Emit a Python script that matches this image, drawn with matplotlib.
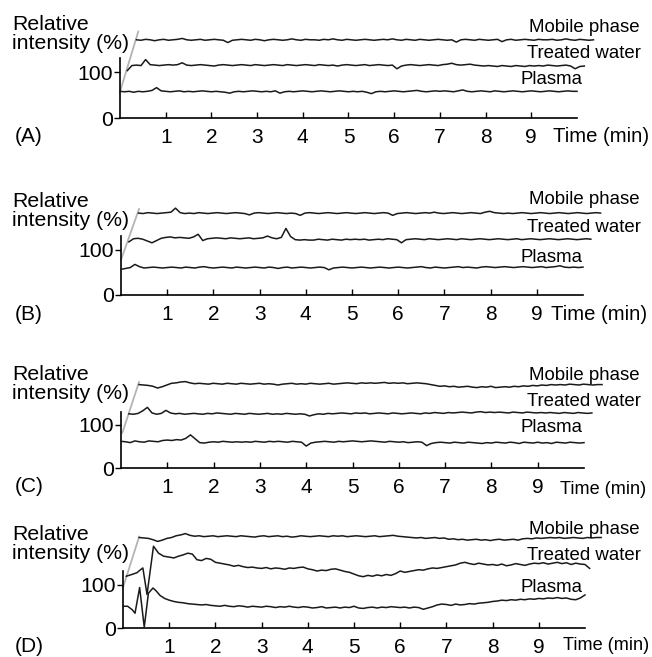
import numpy as np
import matplotlib
matplotlib.use("Agg")
import matplotlib.pyplot as plt

plt.rcParams['font.family'] = ['Liberation Sans', 'DejaVu Sans']

# ---------------- data ----------------
# common time grid (min) for most traces (trace-local time)
t_grid = np.round(np.arange(0, 10.001, 0.1), 1)

trace_names = ["Mobile phase", "Treated water", "Plasma"]
panel_labels = ["(A)", "(B)", "(C)", "(D)"]
x_ticks = [1, 2, 3, 4, 5, 6, 7, 8, 9]
y_ticks = [0, 100]
y_ticklabels = ["0", "100"]

# horizontal stacking offsets (min) of each trace
A_shift = [0.36, 0.16, 0.0]
B_shift = [0.38, 0.17, 0.0]
C_shift = [0.39, 0.17, 0.0]
D_mobile_shift = 0.35

A_mobile = [170, 169, 171, 170, 168, 170, 171, 169, 170, 171,
            173, 170, 169, 170, 171, 169, 170, 171, 170, 169,
            164, 169, 170, 171, 170, 169, 171, 170, 168, 170,
            171, 170, 169, 170, 172, 170, 169, 171, 170, 170,
            169, 171, 170, 172, 170, 169, 171, 170, 169, 170,
            171, 170, 169, 170, 171, 170, 172, 170, 169, 171,
            170, 169, 171, 170, 169, 170, 171, 170, 169, 170,
            165, 170, 171, 170, 169, 171, 170, 169, 170, 171,
            166, 170, 171, 169, 170, 171, 170, 169, 171, 170,
            170, 171, 169, 170, 172, 170, 169, 171, 170, 169,
            170]
A_treated = [103, 114, 115, 114, 127, 116, 115, 114, 115, 116,
             115, 116, 120, 115, 114, 115, 116, 115, 114, 113,
             115, 116, 115, 114, 115, 116, 115, 114, 116, 115,
             114, 115, 116, 115, 114, 116, 115, 114, 115, 116,
             115, 114, 116, 115, 114, 115, 113, 115, 116, 115,
             114, 115, 116, 114, 115, 116, 115, 114, 115, 107,
             113, 115, 116, 115, 114, 115, 116, 115, 114, 116,
             117, 119, 116, 115, 116, 117, 115, 114, 113, 114,
             113, 112, 114, 113, 112, 114, 113, 112, 114, 113,
             114, 113, 115, 114, 113, 114, 115, 113, 107, 112,
             113]
A_plasma = [58, 57, 58, 56, 58, 57, 58, 60, 66, 59,
            58, 57, 58, 59, 57, 58, 57, 58, 59, 58,
            57, 58, 57, 56, 54, 57, 58, 57, 58, 59,
            58, 57, 58, 57, 59, 54, 57, 58, 57, 58,
            59, 58, 57, 58, 59, 58, 57, 58, 59, 58,
            57, 58, 57, 58, 56, 53, 57, 58, 57, 58,
            59, 58, 57, 58, 59, 60, 58, 57, 58, 59,
            58, 59, 58, 57, 59, 61, 58, 57, 58, 59,
            58, 57, 59, 58, 57, 58, 59, 58, 57, 58,
            59, 58, 57, 58, 59, 58, 57, 58, 59, 58,
            58]

B_mobile = [182, 181, 183, 182, 181, 182, 183, 184, 193, 183,
            181, 182, 181, 183, 182, 181, 182, 183, 182, 181,
            182, 183, 182, 181, 178, 182, 183, 182, 181, 182,
            183, 182, 181, 182, 181, 177, 182, 183, 182, 181,
            182, 183, 182, 181, 182, 183, 182, 181, 182, 183,
            182, 181, 182, 183, 182, 177, 181, 182, 183, 182,
            181, 182, 183, 182, 184, 182, 181, 182, 183, 182,
            181, 182, 183, 182, 181, 184, 186, 183, 182, 181,
            182, 181, 182, 183, 182, 181, 182, 183, 182, 181,
            182, 183, 182, 181, 182, 183, 182, 181, 182, 183,
            182]
B_treated = [118, 125, 126, 124, 120, 116, 121, 126, 128, 129,
             127, 128, 127, 126, 129, 135, 121, 125, 126, 127,
             126, 125, 127, 126, 125, 126, 127, 125, 126, 127,
             131, 127, 125, 128, 148, 130, 123, 122, 123, 122,
             122, 124, 123, 122, 124, 123, 122, 124, 123, 124,
             123, 124, 122, 123, 124, 123, 125, 124, 123, 116,
             123, 124, 125, 124, 123, 125, 124, 123, 124, 125,
             124, 123, 125, 124, 123, 124, 125, 124, 123, 124,
             125, 124, 123, 124, 125, 123, 124, 125, 124, 123,
             124, 125, 124, 123, 124, 125, 124, 123, 124, 125,
             124]
B_plasma = [57, 59, 61, 68, 63, 60, 61, 62, 61, 60,
            61, 62, 61, 60, 62, 61, 60, 62, 63, 61,
            60, 61, 62, 61, 60, 62, 61, 60, 61, 62,
            61, 60, 62, 61, 59, 61, 62, 60, 61, 62,
            61, 60, 61, 62, 61, 56, 60, 61, 62, 61,
            60, 61, 62, 61, 60, 61, 62, 61, 60, 61,
            62, 61, 60, 61, 62, 63, 61, 60, 62, 61,
            60, 61, 62, 63, 61, 62, 61, 60, 62, 63,
            62, 61, 62, 63, 62, 61, 62, 63, 62, 61,
            62, 63, 61, 62, 63, 65, 62, 61, 62, 61,
            62]

C_mobile = [194, 193, 192, 190, 186, 189, 193, 197, 198, 200,
            201, 198, 196, 197, 196, 195, 197, 196, 195, 197,
            196, 195, 197, 196, 195, 196, 197, 195, 196, 195,
            193, 195, 196, 197, 195, 196, 195, 197, 196, 195,
            196, 197, 195, 196, 197, 198, 197, 196, 198, 197,
            198, 197, 198, 199, 197, 198, 197, 198, 196, 197,
            198, 197, 196, 194, 192, 190, 191, 189, 190, 188,
            189, 190, 188, 187, 189, 188, 190, 187, 188, 189,
            188, 190, 189, 191, 190, 192, 191, 193, 192, 194,
            193, 194, 193, 195, 194, 193, 195, 194, 193, 194,
            194]
C_treated = [126, 125, 127, 133, 141, 128, 125, 127, 134, 128,
             126, 127, 125, 126, 127, 126, 125, 127, 126, 128,
             127, 126, 125, 127, 126, 125, 127, 126, 125, 126,
             127, 125, 126, 125, 127, 126, 125, 126, 125, 121,
             124, 126, 125, 127, 126, 127, 128, 127, 126, 128,
             127, 128, 126, 127, 128, 127, 126, 128, 127, 126,
             127, 128, 127, 126, 128, 127, 129, 128, 127, 129,
             128, 129, 130, 129, 128, 130, 131, 129, 130, 129,
             130, 129, 128, 130, 129, 128, 130, 129, 128, 129,
             128, 129, 128, 127, 129, 128, 127, 129, 128, 127,
             128]
C_plasma = [62, 61, 59, 63, 61, 60, 63, 62, 61, 64,
            65, 64, 66, 65, 69, 77, 68, 59, 58, 60,
            61, 60, 62, 61, 60, 61, 60, 61, 60, 62,
            61, 60, 62, 61, 62, 61, 60, 62, 61, 60,
            51, 58, 60, 61, 62, 61, 60, 62, 61, 62,
            63, 62, 61, 62, 63, 62, 61, 60, 62, 61,
            60, 61, 59, 60, 61, 60, 52, 57, 59, 60,
            59, 58, 60, 59, 58, 60, 59, 58, 57, 59,
            58, 60, 59, 58, 60, 59, 57, 60, 59, 58,
            60, 58, 59, 57, 60, 59, 58, 60, 59, 58,
            59]

D_mobile = [208, 207, 206, 203, 199, 202, 206, 208, 212, 214,
            217, 213, 211, 212, 210, 211, 212, 210, 211, 212,
            211, 210, 212, 211, 210, 209, 211, 212, 210, 211,
            212, 210, 211, 209, 210, 212, 211, 210, 211, 212,
            211, 210, 212, 211, 212, 210, 211, 212, 211, 210,
            211, 212, 210, 211, 212, 213, 211, 210, 209, 208,
            207, 208, 206, 207, 208, 206, 207, 204, 205, 203,
            204, 202, 203, 204, 202, 203, 201, 203, 204, 202,
            203, 204, 202, 205, 206, 205, 207, 206, 207, 208,
            207, 208, 206, 207, 208, 207, 206, 208, 207, 208,
            208]
# treated water and plasma in (D): explicit times (plotted min)
D_treated_t_early = [0.07, 0.19, 0.30, 0.38, 0.43, 0.52, 0.66, 0.77, 0.88]
D_treated_early = [119, 123, 127, 134, 138, 77, 188, 172, 165]
D_treated_t_late = np.round(np.arange(1.0, 10.101, 0.1), 1)
D_treated_late = [163, 161, 165, 168, 172, 170, 157, 155, 160, 158,
                  151, 149, 147, 145, 142, 144, 141, 139, 140, 138,
                  137, 139, 136, 138, 137, 135, 138, 137, 139, 140,
                  136, 134, 131, 133, 132, 135, 136, 133, 130, 128,
                  124, 120, 118, 121, 119, 122, 120, 123, 121, 125,
                  131, 128, 130, 132, 134, 133, 136, 138, 137, 139,
                  141, 143, 145, 149, 151, 148, 146, 149, 147, 145,
                  146, 144, 147, 143, 145, 148, 146, 144, 147, 149,
                  148, 150, 147, 149, 151, 148, 150, 146, 149, 147,
                  146, 137]
D_plasma_t_early = [0.0, 0.1, 0.2, 0.26, 0.36, 0.46, 0.55, 0.65, 0.72, 0.8]
D_plasma_early = [50, 50, 42, 34, 93, 2, 80, 92, 85, 75]
D_plasma_t_late = np.round(np.arange(0.9, 10.001, 0.1), 1)
D_plasma_late = [68,
                 64, 61, 59, 58, 56, 55, 54, 53, 54, 52,
                 51, 50, 52, 50, 49, 51, 50, 48, 50, 49,
                 48, 50, 49, 47, 49, 48, 50, 48, 47, 49,
                 48, 46, 47, 49, 46, 47, 48, 46, 48, 47,
                 50, 46, 45, 47, 48, 46, 48, 47, 49, 48,
                 47, 48, 46, 48, 47, 43, 46, 49, 53, 55,
                 54, 52, 55, 53, 54, 56, 55, 57, 58, 59,
                 61, 62, 64, 63, 65, 64, 66, 65, 67, 66,
                 68, 67, 69, 68, 70, 68, 69, 66, 65, 69,
                 76]

# grey stacking guide line per panel: (x0, y0, x1, y1)
guide_A = [0.0, 57, 0.40, 188]
guide_B = [0.0, 78, 0.39, 191]
guide_C = [0.03, 82, 0.39, 200]
guide_D = [0.0, 93, 0.35, 210]

# ---------------- layout ----------------
W, H = 652, 657
fig = plt.figure(figsize=(W / 100, H / 100), dpi=100)


def fx(px):
    return px / W


def fy(py):
    return 1 - py / H


YMAX = 240
# per panel: x of t=0 (px), px per min, baseline y (px from top), px per unit
panels = [
    dict(x0=120, pxm=45.7, base=118, pxu=0.46),
    dict(x0=121, pxm=46.2, base=295, pxu=0.45),
    dict(x0=121, pxm=46.3, base=468, pxu=0.43),
    dict(x0=123, pxm=46.2, base=628, pxu=0.435),
]
label_offsets = [(91, 65, 39), (95, 67, 38), (93, 66, 41), (99, 72, 41)]
time_label = [(553, 19, 14.6), (551, 19, 14.6), (560, 21, 13.1), (563, 17, 13.1)]

panel_traces = [
    [(t_grid + A_shift[0], A_mobile), (t_grid + A_shift[1], A_treated), (t_grid + A_shift[2], A_plasma)],
    [(t_grid + B_shift[0], B_mobile), (t_grid + B_shift[1], B_treated), (t_grid + B_shift[2], B_plasma)],
    [(t_grid + C_shift[0], C_mobile), (t_grid + C_shift[1], C_treated), (t_grid + C_shift[2], C_plasma)],
    [(t_grid + D_mobile_shift, D_mobile),
     (np.concatenate([D_treated_t_early, D_treated_t_late]), D_treated_early + D_treated_late),
     (np.concatenate([D_plasma_t_early, D_plasma_t_late]), D_plasma_early + D_plasma_late)],
]
guides = [guide_A, guide_B, guide_C, guide_D]

for i, p in enumerate(panels):
    ax = fig.add_axes([fx(p['x0']), fy(p['base']), fx(10 * p['pxm']), YMAX * p['pxu'] / H])
    ax.set_xlim(0, 10)
    ax.set_ylim(0, YMAX)
    ax.patch.set_alpha(0)
    for s in ['top', 'right']:
        ax.spines[s].set_visible(False)
    ax.spines['left'].set_bounds(0, 130)
    ax.spines['bottom'].set_bounds(0, 10)
    for s in ['left', 'bottom']:
        ax.spines[s].set_linewidth(1.2)
    ax.set_xticks(x_ticks)
    ax.set_xticklabels([str(v) for v in x_ticks])
    ax.set_yticks(y_ticks)
    ax.set_yticklabels(y_ticklabels)
    ax.tick_params(axis='x', direction='in', length=4, width=1.0, pad=7, labelsize=15)
    ax.tick_params(axis='y', direction='out', length=4, width=1.0, pad=1, labelsize=15.3)

    g = guides[i]
    ax.plot([g[0], g[2]], [g[1], g[3]], color='#b4b4b4', lw=1.3, clip_on=False, zorder=2)
    for (xs, ys) in panel_traces[i]:
        ax.plot(xs, ys, color='#1a1a1a', lw=1.1, clip_on=False, zorder=3)

    base = p['base']
    fig.text(fx(12), fy(base - 84), "Relative\nintensity (%)", ha='left', va='center',
             fontsize=15.3, linespacing=1.0)
    fig.text(fx(15), fy(base + 19), panel_labels[i], ha='left', va='center', fontsize=15)
    tl = time_label[i]
    fig.text(fx(tl[0]), fy(base + tl[1]), "Time (min)", ha='left', va='center', fontsize=tl[2])
    lo = label_offsets[i]
    fig.text(fx(640), fy(base - lo[0]), trace_names[0], ha='right', va='center', fontsize=13.4)
    fig.text(fx(641), fy(base - lo[1]), trace_names[1], ha='right', va='center', fontsize=13.4)
    fig.text(fx(582), fy(base - lo[2]), trace_names[2], ha='right', va='center', fontsize=13.4)

fig.savefig("out.png", dpi=100)
